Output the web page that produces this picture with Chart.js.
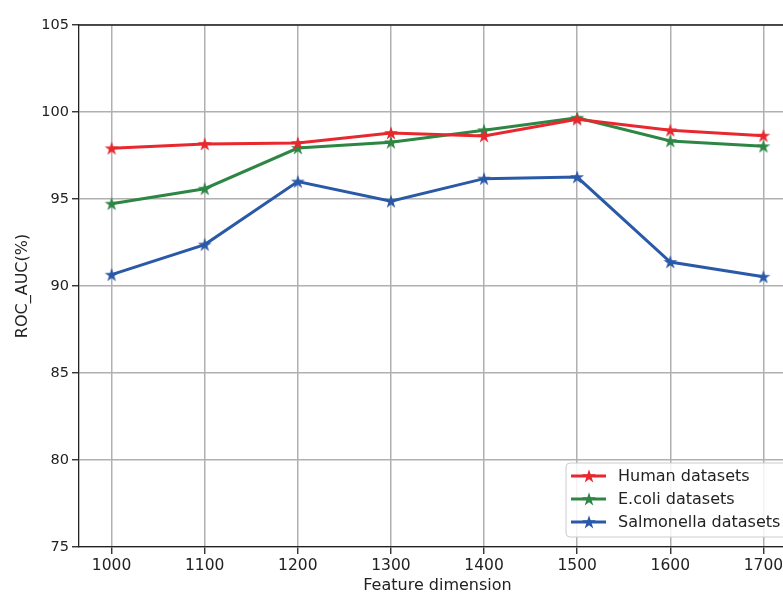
<!DOCTYPE html>
<html>
<head>
<meta charset="utf-8">
<script src="https://cdn.jsdelivr.net/npm/chart.js@4"></script>
<style>
  html, body { margin: 0; background: #fff; overflow: hidden; }
  #clip { width: 783px; height: 592px; overflow: hidden; }
  canvas { display: block; }
</style>
</head>
<body>
<div id="clip"><canvas id="roc-chart" width="796" height="592"></canvas></div>
<script>
const featureDims = [1000, 1100, 1200, 1300, 1400, 1500, 1600, 1700];
const humanAuc = [97.91, 98.16, 98.22, 98.79, 98.62, 99.58, 98.95, 98.64];
const ecoliAuc = [94.73, 95.59, 97.93, 98.26, 98.95, 99.67, 98.33, 98.03];
const salmonellaAuc = [90.65, 92.38, 96.0, 94.87, 96.17, 96.26, 91.38, 90.53];
const yTicks = [75, 80, 85, 90, 95, 100, 105];

const RED = '#e8282e';
const GREEN = '#2e8644';
const BLUE = '#2a59a8';
const FONT = '"DejaVu Sans", sans-serif';

function starImage(color) {
    const size = 16, c = document.createElement('canvas');
    c.width = size; c.height = size;
    const g = c.getContext('2d');
    const R = 7.3, r = R * 0.382;
    g.beginPath();
    for (let i = 0; i < 10; i++) {
        const rad = i % 2 ? r : R;
        const a = -Math.PI / 2 + i * Math.PI / 5;
        const x = size / 2 + rad * Math.cos(a), y = size / 2 + 0.5 + rad * Math.sin(a);
        i ? g.lineTo(x, y) : g.moveTo(x, y);
    }
    g.closePath();
    g.fillStyle = color;
    g.fill();
    return c;
}

function series(label, values, color) {
    return {
        label: label,
        data: featureDims.map((d, i) => ({x: d, y: values[i]})),
        borderColor: color,
        backgroundColor: color,
        borderWidth: 3,
        pointStyle: starImage(color),
        pointRadius: 7,
        tension: 0
    };
}

// legend box inside the plot (lower right) and the top/right spines
const insideLegend = {
    id: 'insideLegend',
    afterDraw(chart) {
        const g = chart.ctx, area = chart.chartArea;
        g.save();
        g.strokeStyle = '#222';
        g.lineWidth = 1.3;
        g.beginPath();
        g.moveTo(area.left, area.top);
        g.lineTo(area.right, area.top);
        g.lineTo(area.right, area.bottom);
        g.stroke();

        const bx = 566, by = 463, bw = 223, bh = 74;
        g.beginPath();
        g.roundRect(bx, by, bw, bh, 4);
        g.fillStyle = 'rgba(255,255,255,0.85)';
        g.fill();
        g.strokeStyle = '#cccccc';
        g.lineWidth = 1;
        g.stroke();

        const rows = [476, 499, 522];
        g.font = '16px ' + FONT;
        g.textBaseline = 'middle';
        chart.data.datasets.forEach((ds, i) => {
            const y = rows[i];
            g.strokeStyle = ds.borderColor;
            g.lineWidth = 3;
            g.beginPath();
            g.moveTo(571, y);
            g.lineTo(606, y);
            g.stroke();
            g.drawImage(ds.pointStyle, 589 - 8, y - 8);
            g.fillStyle = '#222';
            g.fillText(ds.label, 618, y + 1);
        });
        g.restore();
    }
};

document.addEventListener('DOMContentLoaded', function () {
    const ctx = document.getElementById('roc-chart');
    new Chart(ctx, {
        type: 'line',
        data: {
            datasets: [
                series('Human datasets', humanAuc, RED),
                series('E.coli datasets', ecoliAuc, GREEN),
                series('Salmonella datasets', salmonellaAuc, BLUE)
            ]
        },
        options: {
            responsive: false,
            animation: false,
            layout: {autoPadding: false, padding: {top: 25, right: 0, left: 0, bottom: 0}},
            plugins: {legend: {display: false}, tooltip: {enabled: false}},
            scales: {
                x: {
                    type: 'linear',
                    min: 965,
                    max: 1735,
                    afterBuildTicks: s => { s.ticks = featureDims.map(v => ({value: v})); },
                    afterFit: s => { s.height = 45; },
                    grid: {color: '#b0b0b0', lineWidth: 1.5, tickLength: 7, tickColor: '#222', tickWidth: 1.3},
                    border: {color: '#222', width: 1.3},
                    ticks: {color: '#222', padding: 3, maxRotation: 0, font: {family: FONT, size: 15.5},
                            callback: v => String(v)},
                    title: {display: true, text: 'Feature dimension', color: '#222', padding: {top: 0, bottom: -3}, font: {family: FONT, size: 16}}
                },
                y: {
                    min: 75,
                    max: 105,
                    afterBuildTicks: s => { s.ticks = yTicks.map(v => ({value: v})); },
                    afterFit: s => { s.width = 79; },
                    grid: {color: '#b0b0b0', lineWidth: 1.5, tickLength: 7, tickColor: '#222', tickWidth: 1.3},
                    border: {color: '#222', width: 1.3},
                    ticks: {color: '#222', padding: 3, font: {family: FONT, size: 14.5}},
                    title: {display: true, text: 'ROC_AUC(%)', color: '#222', padding: {top: 13, bottom: 0}, font: {family: FONT, size: 16}}
                }
            }
        },
        plugins: [insideLegend]
    });
});
</script>
</body>
</html>
